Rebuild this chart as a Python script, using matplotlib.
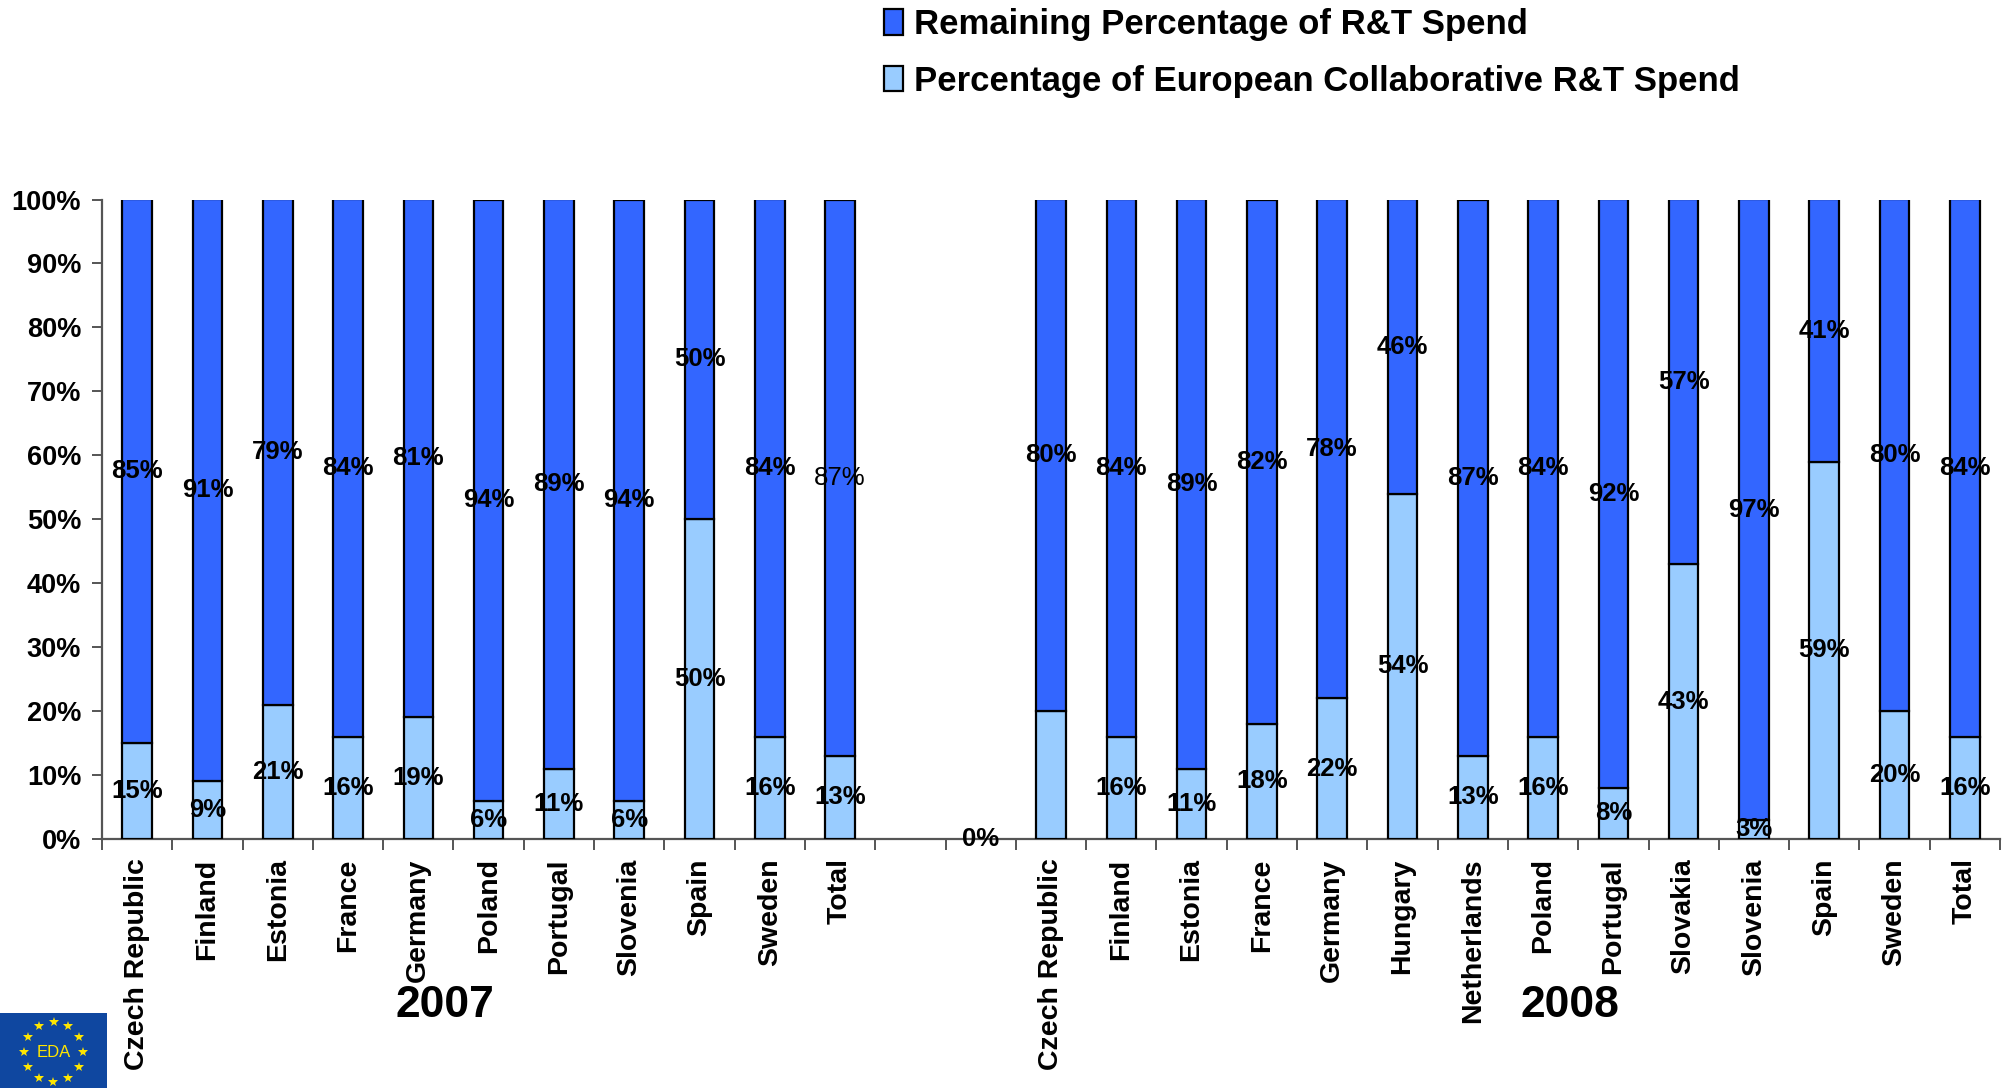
import numpy as np
import matplotlib
matplotlib.use("Agg")
import matplotlib.pyplot as plt
from matplotlib.patches import Patch
from matplotlib import font_manager as fm
from matplotlib.ticker import FixedLocator, FuncFormatter
import matplotlib.transforms as mtransforms

# ---------------- data ----------------
years = ["2007", "2008"]
cats_2007 = ["Czech Republic", "Finland", "Estonia", "France", "Germany", "Poland",
             "Portugal", "Slovenia", "Spain", "Sweden", "Total"]
collab_2007 = [15, 9, 21, 16, 19, 6, 11, 6, 50, 16, 13]
remaining_2007 = [85, 91, 79, 84, 81, 94, 89, 94, 50, 84, 87]

cats_2008 = ["Czech Republic", "Finland", "Estonia", "France", "Germany", "Hungary",
             "Netherlands", "Poland", "Portugal", "Slovakia", "Slovenia", "Spain",
             "Sweden", "Total"]
collab_2008 = [20, 16, 11, 18, 22, 54, 13, 16, 8, 43, 3, 59, 20, 16]
remaining_2008 = [80, 84, 89, 82, 78, 46, 87, 84, 92, 57, 97, 41, 80, 84]
collab_labels_2008 = ["", "16%", "11%", "18%", "22%", "54%", "13%", "16%", "8%",
                      "43%", "3%", "59%", "20%", "16%"]
gap_value = [0]          # the lone "0%" shown in the gap between the years
series_names = ["Remaining Percentage of R&T Spend",
                "Percentage of European Collaborative R&T Spend"]
yticks = list(range(0, 101, 10))

# ---------------- style ----------------
names = {f.name for f in fm.fontManager.ttflist}
BASE = "Liberation Sans" if "Liberation Sans" in names else "DejaVu Sans"
NARROW = "Liberation Sans Narrow" if "Liberation Sans Narrow" in names else None
plt.rcParams["font.family"] = [BASE, "DejaVu Sans"]

DARK = "#3366FF"
LIGHT = "#99CCFF"
W = 0.42

fig = plt.figure(figsize=(20.05, 10.88), dpi=100)
ax = fig.add_axes([102 / 2005, 1 - 839 / 1088, (2000 - 102) / 2005, (839 - 199.5) / 1088])

x07 = np.arange(len(cats_2007))
gap_pos = len(cats_2007) + 1
x08 = np.arange(len(cats_2008)) + len(cats_2007) + 2

kw = dict(width=W, edgecolor="black", linewidth=1.6, zorder=3)
b07c = ax.bar(x07, collab_2007, color=LIGHT, **kw)
b07r = ax.bar(x07, remaining_2007, bottom=collab_2007, color=DARK, **kw)
b08c = ax.bar(x08, collab_2008, color=LIGHT, **kw)
b08r = ax.bar(x08, remaining_2008, bottom=collab_2008, color=DARK, **kw)
bgap = ax.bar([gap_pos], gap_value, width=W, color=LIGHT, linewidth=0)

lab_kw = dict(label_type="center", fontsize=18.5, fontweight="bold", color="black", zorder=5)
ax.bar_label(b07c, labels=[f"{v:.0f}%" for v in collab_2007], **lab_kw)
t07r = ax.bar_label(b07r, labels=[f"{v:.0f}%" for v in remaining_2007], **lab_kw)
t07r[-1].set_fontweight("normal")
ax.bar_label(b08c, labels=collab_labels_2008, **lab_kw)
ax.bar_label(b08r, labels=[f"{v:.0f}%" for v in remaining_2008], **lab_kw)
ax.bar_label(bgap, labels=[f"{v:.0f}%" for v in gap_value], **lab_kw)

# axes
ax.set_xlim(-0.5, x08[-1] + 0.5)
ax.set_ylim(0, 100)
for s in ["top", "right"]:
    ax.spines[s].set_visible(False)
for s in ["left", "bottom"]:
    ax.spines[s].set_color("#555555")
    ax.spines[s].set_linewidth(1.6)

ax.set_yticks(yticks)
ax.set_yticklabels([f"{v}%" for v in yticks], fontsize=19.5, fontweight="bold")
ax.tick_params(axis="y", direction="out", length=7, width=1.4, color="#555555", pad=8)

boundaries = np.arange(-0.5, x08[-1] + 1, 1.0)
ax.xaxis.set_major_locator(FixedLocator(boundaries))
ax.xaxis.set_major_formatter(FuncFormatter(lambda v, p: ""))
centers = list(x07) + list(x08)
ax.set_xticks(centers, minor=True)
ax.set_xticklabels(cats_2007 + cats_2008, minor=True, rotation=90,
                   fontsize=20.5, fontweight="bold", va="top", ha="center")
ax.tick_params(axis="x", which="major", direction="out", length=8, width=1.4, color="#555555")
ax.tick_params(axis="x", which="minor", length=0, pad=14)

# year captions
trans = mtransforms.blended_transform_factory(ax.transData, ax.transAxes)
year_font = dict(fontweight="bold", ha="center", va="center")
if NARROW:
    year_font.update(fontsize=37, family=[NARROW, BASE])
else:
    year_font.update(fontsize=32)
ax.text(4.38, -0.26, years[0], transform=trans, **year_font)
ax.text(20.38, -0.26, years[1], transform=trans, **year_font)

# legend
handles = [Patch(facecolor=DARK, edgecolor="black", linewidth=1.6),
           Patch(facecolor=LIGHT, edgecolor="black", linewidth=1.6)]
if NARROW:
    lprop = fm.FontProperties(family=[NARROW, BASE], weight="bold", size=29)
else:
    lprop = fm.FontProperties(family=[BASE], weight="bold", size=25)
leg = fig.legend(handles, series_names, loc="upper left",
                 bbox_to_anchor=(884 / 2005, 1 - 8 / 1088), frameon=False, prop=lprop,
                 handlelength=0.56, handleheight=0.76, handletextpad=0.3,
                 labelspacing=0.68, borderaxespad=0, borderpad=0)

# EDA logo
lax = fig.add_axes([0, 0, 107 / 2005, 75 / 1088])
lax.set_facecolor("#0F47A0")
lax.set_xlim(-1, 1)
lax.set_ylim(-1, 1)
lax.set_xticks([])
lax.set_yticks([])
for s in lax.spines.values():
    s.set_visible(False)
ang = np.linspace(0, 2 * np.pi, 12, endpoint=False)
lax.plot(0.55 * np.cos(ang), 0.8 * np.sin(ang) - 0.05, linestyle="none", marker="*",
         markersize=7, color="#FFE600", markeredgewidth=0)
lax.text(0, -0.05, "EDA", color="#FFE600", fontsize=12, ha="center", va="center")

fig.savefig("out.png", dpi=100)
